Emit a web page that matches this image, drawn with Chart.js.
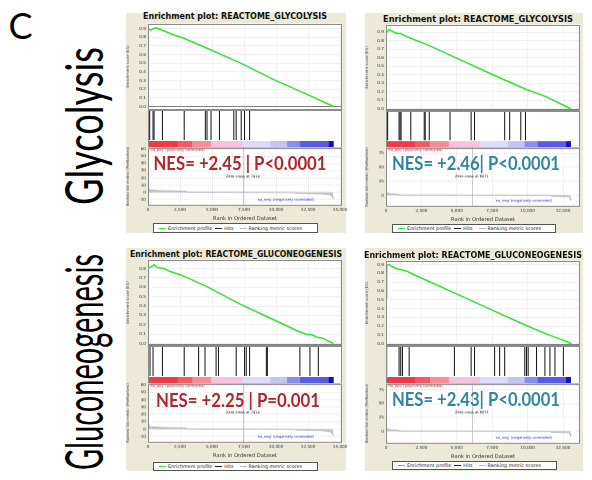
<!DOCTYPE html>
<html>
<head>
<meta charset="utf-8">
<title>GSEA enrichment plots</title>
<script src="https://cdn.jsdelivr.net/npm/chart.js@4.4.1/dist/chart.umd.min.js"></script>
<style>
  html, body { margin: 0; padding: 0; background: #fff; }
  #page { position: relative; width: 592px; height: 480px; overflow: hidden; }
  .panel { position: absolute; background: #ece9d8; }
  .abs { position: absolute; white-space: nowrap; }
  canvas { position: absolute; }
  .legend { position: absolute; box-sizing: border-box; background: #fff; border: 1px solid #555;
            display: flex; align-items: center; padding: 0 2px; font: 4.8px 'DejaVu Sans'; color: #222; white-space: nowrap; }
  .legend .sw { display: inline-block; width: 7px; border-top: 1.6px solid; margin: 0 2px 0 3px; }
</style>
</head>
<body>
<div id="page"></div>
<script>
// ---- data ----
const xTicksA = [0, 2500, 5000, 7500, 10000, 12500, 15000];
const xTicksB = [0, 2500, 5000, 7500, 10000, 12500];
const esTicks9 = [0, 0.1, 0.2, 0.3, 0.4, 0.5, 0.6, 0.7, 0.8, 0.9];
const esTicks8 = [0, 0.1, 0.2, 0.3, 0.4, 0.5, 0.6, 0.7, 0.8];
const metricTicksA = [-10, 0, 10, 20, 30, 40, 50, 60];
const metricTicksB = [0, 25, 50, 75];

// glycolysis, left dataset
const glyA_esRank = [0, 25, 210, 470, 600, 1130, 1910, 2700, 4530, 7150, 10030, 12390, 14480];
const glyA_esScore = [0, 0.897, 0.881, 0.904, 0.908, 0.88, 0.831, 0.793, 0.678, 0.506, 0.295, 0.142, 0];
const glyA_hits = [26, 131, 393, 471, 1126, 2828, 4478, 4609, 4923, 5577, 6703, 6886, 7279, 7541, 7934];

// glycolysis, right dataset
const glyB_esRank = [0, 20, 213, 450, 805, 1040, 1160, 1870, 2820, 5180, 7550, 9920, 11340, 13040];
const glyB_esScore = [0.364, 0.89, 0.93, 0.91, 0.884, 0.884, 0.872, 0.82, 0.76, 0.58, 0.40, 0.227, 0.14, 0];
const glyB_hits = [10, 20, 47, 118, 923, 994, 1065, 1752, 2699, 2770, 3054, 4522, 6013, 6250, 8381, 8736, 9517, 9849];

// gluconeogenesis, left dataset
const gngA_esRank = [0, 26, 210, 470, 600, 860, 1260, 1780, 2440, 2960, 4530, 7150, 9770, 11600, 12390, 12780, 13180, 13570, 14480];
const gngA_esScore = [0, 0.808, 0.815, 0.84, 0.82, 0.808, 0.80, 0.765, 0.737, 0.708, 0.612, 0.423, 0.256, 0.139, 0.096, 0.096, 0.068, 0.06, 0];
const gngA_hits = [26, 157, 393, 1126, 2828, 3953, 4452, 5316, 5499, 6886, 7541, 7672, 7934, 9243, 9321, 11861, 12647, 13301];

// gluconeogenesis, right dataset
const gngB_esRank = [0, 50, 240, 400, 760, 1110, 1470, 1940, 2890, 5250, 7620, 9990, 11400, 12350, 13100];
const gngB_esScore = [0.527, 0.89, 0.90, 0.878, 0.851, 0.84, 0.824, 0.786, 0.718, 0.546, 0.374, 0.202, 0.107, 0.05, 0];
const gngB_hits = [20, 47, 923, 1041, 1160, 1634, 4830, 6013, 6250, 7670, 8026, 8381, 9801, 9920, 10038, 10630, 11222, 11577, 11932, 12524];

// ranked list metric, one per ranked list
const metricA_rank = [0, 60, 300, 1000, 2000, 2900, 3100, 6000, 9000, 11300, 11700, 13500, 14200, 14400, 14480];
const metricA_value = [6, 4, 2.8, 2.2, 1.8, 1.5, 0.3, 0.1, 0, -0.2, -1.2, -1.8, -3, -6, -9];
const metricB_rank = [0, 40, 150, 400, 850, 900, 5000, 9000, 11600, 11700, 12900, 13000, 13040];
const metricB_value = [7, 4, 3, 2.2, 1.6, 0.3, 0.1, 0, -0.3, -1.8, -2.5, -5, -9];

// heat bar under the hits, as fractions of the ranked list
const colorbarStops = [0, 0.16, 0.24, 0.34, 0.51, 0.66, 0.75, 0.82, 0.975, 1];

const nesLabels = ['NES= +2.45 | P<0.0001', 'NES= +2.46| P<0.0001', 'NES= +2.25 | P=0.001', 'NES= +2.43| P<0.0001'];
const zeroCross = [7414, 6071, 7414, 6071];
const legendLabels = ['Enrichment profile', 'Hits', 'Ranking metric scores'];

// ---- look ----
const colorbarColors = ['#ef3a49', '#f35a68', '#f68c98', '#f8c2de', '#dcdcf8', '#c5c5f4', '#8c8cef', '#5a5ae6', '#1212bd'];
const legendColors = ['#33e633', '#222', '#bbb'];
const NES_RED = '#b0262d', NES_TEAL = '#31869c';

Chart.defaults.font.family = "'DejaVu Sans', sans-serif";
Chart.defaults.font.size = 4.2;
Chart.defaults.color = '#333';
Chart.defaults.animation = false;
Chart.defaults.events = [];
Chart.defaults.responsive = false;
Chart.defaults.maintainAspectRatio = false;
Chart.defaults.plugins.legend.display = false;
Chart.defaults.plugins.tooltip.enabled = false;

const page = document.getElementById('page');
const zip = (xs, ys) => xs.map((x, i) => ({ x, y: ys[i] }));
const fixedTicks = values => scale => { scale.ticks = values.map(v => ({ value: v })); };

function addText(text, cx, cy, o) {
  const el = document.createElement('div');
  el.className = 'abs';
  el.textContent = text;
  el.style.font = `${o.weight || 'normal'} ${o.size}px ${o.family}`;
  el.style.lineHeight = '1';
  el.style.color = o.color || '#000';
  page.appendChild(el);
  const sx = o.length ? o.length / el.getBoundingClientRect().width : 1;
  el.style.left = cx + 'px';
  el.style.top = cy + 'px';
  el.style.transform = `translate(-50%, -50%) rotate(${o.rotate || 0}deg) scaleX(${sx})`;
  return el;
}

// create a chart whose plot area lands on [l, t, r, b] of the page
function makeChart(area, margins, config) {
  const [l, t, r, b] = area;
  const [ml, mt, mr, mb] = margins;
  const w = r - l + ml + mr, h = b - t + mt + mb;
  const canvas = document.createElement('canvas');
  canvas.width = w; canvas.height = h;
  canvas.style.width = w + 'px'; canvas.style.height = h + 'px';
  canvas.style.left = (l - ml) + 'px'; canvas.style.top = (t - mt) + 'px';
  page.appendChild(canvas);
  const chart = new Chart(canvas, config);
  const a = chart.chartArea;
  const dx = a.left - ml, dy = a.top - mt;
  const dw = (a.right - a.left) - (r - l), dh = (a.bottom - a.top) - (b - t);
  if (dx || dy || dw || dh) {
    canvas.style.left = (l - ml - dx) + 'px';
    canvas.style.top = (t - mt - dy) + 'px';
    chart.resize(w - dw, h - dh);
  }
  return chart;
}

const plotFrame = {
  id: 'plotFrame',
  beforeDraw(chart) {
    const { ctx, chartArea: a } = chart;
    ctx.save();
    ctx.fillStyle = '#fff';
    ctx.fillRect(a.left, a.top, a.width, a.height);
    ctx.restore();
  },
  afterDraw(chart) {
    const { ctx, chartArea: a } = chart;
    ctx.save();
    ctx.strokeStyle = '#8c8c8c';
    ctx.lineWidth = 1;
    ctx.strokeRect(Math.round(a.left) + 0.5, Math.round(a.top) + 0.5, Math.round(a.width) - 1, Math.round(a.height) - 1);
    ctx.restore();
  }
};

const zeroLine = {
  id: 'zeroLine',
  beforeDatasetsDraw(chart) {
    const { ctx, chartArea: a, scales: { y } } = chart;
    const py = Math.round(y.getPixelForValue(0)) + 0.5;
    ctx.save();
    ctx.strokeStyle = '#808080';
    ctx.lineWidth = 1;
    ctx.beginPath(); ctx.moveTo(a.left, py); ctx.lineTo(a.right, py); ctx.stroke();
    ctx.restore();
  }
};

function colorbar(listSize) {
  return {
    id: 'colorbar',
    afterDatasetsDraw(chart) {
      const { ctx, chartArea: a, scales: { x, y } } = chart;
      const top = y.getPixelForValue(-0.03);
      for (let i = 0; i < colorbarColors.length; i++) {
        const x0 = x.getPixelForValue(colorbarStops[i] * listSize);
        const x1 = x.getPixelForValue(colorbarStops[i + 1] * listSize);
        ctx.fillStyle = colorbarColors[i];
        ctx.fillRect(x0, top, x1 - x0 + 0.3, a.bottom - top);
      }
    }
  };
}

function metricNotes(cross) {
  return {
    id: 'metricNotes',
    beforeDatasetsDraw(chart) {
      const { ctx, chartArea: a, scales: { x } } = chart;
      const px = Math.round(x.getPixelForValue(cross)) + 0.5;
      ctx.save();
      ctx.strokeStyle = '#9a9a9a';
      ctx.setLineDash([1, 1]);
      ctx.beginPath(); ctx.moveTo(px, a.top); ctx.lineTo(px, a.bottom); ctx.stroke();
      ctx.restore();
    },
    afterDatasetsDraw(chart) {
      const { ctx, chartArea: a, scales: { x } } = chart;
      ctx.save();
      ctx.font = "3.6px 'DejaVu Sans'";
      ctx.textBaseline = 'middle';
      ctx.fillStyle = '#e8323a';
      ctx.fillText("'na_pos' (positively correlated)", a.left + 1.5, a.top + 2.5);
      ctx.fillStyle = '#111';
      ctx.textAlign = 'center';
      ctx.fillText('Zero cross at ' + cross, x.getPixelForValue(cross), a.top + 29);
      ctx.fillStyle = '#2a2ae8';
      ctx.textAlign = 'right';
      ctx.fillText("'na_neg' (negatively correlated)", a.right - 28, a.bottom - 5);
      ctx.restore();
    }
  };
}

function addLegend(box) {
  const el = document.createElement('div');
  el.className = 'legend';
  Object.assign(el.style, { left: box[0] + 'px', top: box[1] + 'px', width: box[2] + 'px', height: box[3] + 'px' });
  legendLabels.forEach((label, i) => {
    const sw = document.createElement('span');
    sw.className = 'sw';
    sw.style.borderColor = legendColors[i];
    if (i === 2) sw.style.marginLeft = '6px';
    el.appendChild(sw);
    el.appendChild(document.createTextNode(label));
  });
  page.appendChild(el);
}

const gridX = { color: '#d6d6d6', lineWidth: 0.6, drawTicks: false };
const gridY = { color: '#d6d6d6', lineWidth: 0.6, drawTicks: false };
const dotted = { display: false, dash: [1, 1] };

function buildPanel(d, L) {
  const bg = document.createElement('div');
  bg.className = 'panel';
  Object.assign(bg.style, { left: L.bg[0] + 'px', top: L.bg[1] + 'px', width: L.bg[2] + 'px', height: L.bg[3] + 'px' });
  page.appendChild(bg);

  addText('Enrichment plot: ' + d.set, L.title[0], L.title[1],
    { size: 8, length: L.title[2], weight: 'bold', family: "'DejaVu Sans'", color: '#111' });

  const [xl, xr] = L.x;
  const xAxis = showTicks => ({
    type: 'linear', min: 0, max: L.xMax, offset: false,
    afterBuildTicks: fixedTicks(L.xTicks),
    ticks: { display: showTicks, padding: 2, maxRotation: 0, callback: v => v.toLocaleString('en-US') },
    grid: gridX, border: dotted,
    title: { display: showTicks, text: 'Rank in Ordered Dataset', font: { size: 5.2 }, color: '#333', padding: { top: 1, bottom: 0 } }
  });
  const fitWidth = s => { s.width = L.ml; };

  // running enrichment score
  makeChart([xl, L.es[0], xr, L.es[1]], [L.ml, 4, 8, 4], {
    type: 'line',
    data: { datasets: [{ data: zip(d.esRank, d.esScore), borderColor: '#2ee62e', borderWidth: 1.5, pointRadius: 0 }] },
    options: {
      layout: { padding: { top: 4, right: 8, bottom: 4 } },
      scales: {
        x: xAxis(false),
        y: {
          min: L.esMin, max: L.esMax, afterBuildTicks: fixedTicks(L.esTicks), afterFit: fitWidth,
          ticks: { padding: 2, callback: v => v.toFixed(1) },
          grid: gridY, border: dotted,
          title: { display: true, text: 'Enrichment score (ES)', font: { size: 3.8 }, color: '#555', padding: 0 }
        }
      }
    },
    plugins: [plotFrame, zeroLine]
  });

  // hits and heat bar
  makeChart([xl, L.hits[0], xr, L.hits[1]], [L.ml, 0, 8, 0], {
    type: 'bar',
    data: { datasets: [{ data: d.hits.map(r => ({ x: r, y: [0, 1] })), backgroundColor: '#111',
                         barThickness: 1, inflateAmount: 0, borderWidth: 0 }] },
    options: {
      layout: { padding: { left: L.ml, right: 8 } },
      scales: {
        x: { type: 'linear', min: 0, max: L.xMax, offset: false, display: false },
        y: { min: -0.27, max: 1.03, display: false }
      }
    },
    plugins: [plotFrame, colorbar(d.listSize)]
  });

  // ranked list metric
  makeChart([xl, L.rank[0], xr, L.rank[1]], [L.ml, 3, 8, 14], {
    type: 'line',
    data: { datasets: [{ data: zip(d.metricRank, d.metricValue), borderColor: '#a8a8a8', borderWidth: 0.8,
                         backgroundColor: '#c4c4c4', fill: 'origin', pointRadius: 0 }] },
    options: {
      layout: { padding: { top: 3, right: 8 } },
      scales: {
        x: xAxis(true),
        y: {
          min: L.metricMin, max: L.metricMax, afterBuildTicks: fixedTicks(L.metricTicks), afterFit: fitWidth,
          ticks: { padding: 2 },
          grid: gridY, border: dotted,
          title: { display: true, text: 'Ranked list metric (PreRanked)', font: { size: 3.8 }, color: '#555', padding: 0 }
        }
      }
    },
    plugins: [plotFrame, metricNotes(d.zeroCross)]
  });

  addLegend(L.legend);
  addText(d.nes, L.nes[0], L.nes[1],
    { size: 18, length: L.nes[2], weight: 'bold', family: 'Lato', color: d.nesColor });
}

const datasets = [
  { set: 'REACTOME_GLYCOLYSIS', esRank: glyA_esRank, esScore: glyA_esScore, hits: glyA_hits,
    metricRank: metricA_rank, metricValue: metricA_value, listSize: 14480, zeroCross: zeroCross[0], nes: nesLabels[0], nesColor: NES_RED },
  { set: 'REACTOME_GLYCOLYSIS', esRank: glyB_esRank, esScore: glyB_esScore, hits: glyB_hits,
    metricRank: metricB_rank, metricValue: metricB_value, listSize: 13040, zeroCross: zeroCross[1], nes: nesLabels[1], nesColor: NES_TEAL },
  { set: 'REACTOME_GLUCONEOGENESIS', esRank: gngA_esRank, esScore: gngA_esScore, hits: gngA_hits,
    metricRank: metricA_rank, metricValue: metricA_value, listSize: 14480, zeroCross: zeroCross[2], nes: nesLabels[2], nesColor: NES_RED },
  { set: 'REACTOME_GLUCONEOGENESIS', esRank: gngB_esRank, esScore: gngB_esScore, hits: gngB_hits,
    metricRank: metricB_rank, metricValue: metricB_value, listSize: 13040, zeroCross: zeroCross[3], nes: nesLabels[3], nesColor: NES_TEAL }
];

const layouts = [
  { bg: [126, 13, 220, 220], title: [235, 16.5, 184], x: [148, 342], es: [24, 110], hits: [110, 148], rank: [148, 205], ml: 22,
    xMax: 15150, xTicks: xTicksA, esMin: -0.035, esMax: 0.957, esTicks: esTicks9,
    metricMin: -18, metricMax: 62, metricTicks: metricTicksA, legend: [153, 223, 165, 10], nes: [239.5, 163, 173] },
  { bg: [365, 13, 218, 220], title: [478, 20, 190], x: [386, 580], es: [25, 111], hits: [111, 148], rank: [148, 206], ml: 21,
    xMax: 13700, xTicks: xTicksB, esMin: -0.02, esMax: 0.99, esTicks: esTicks9,
    metricMin: -20, metricMax: 85, metricTicks: metricTicksB, legend: [392, 224, 164, 9], nes: [476, 163, 168] },
  { bg: [126, 248, 220, 223], title: [235.5, 255, 212], x: [148, 342], es: [260, 346], hits: [346, 384], rank: [384, 442], ml: 22,
    xMax: 15150, xTicks: xTicksA, esMin: -0.021, esMax: 0.896, esTicks: esTicks8,
    metricMin: -18, metricMax: 62, metricTicks: metricTicksA, legend: [153, 462, 165, 9], nes: [238, 399.5, 164] },
  { bg: [365, 248, 218, 223], title: [473, 256, 218], x: [386, 580], es: [261, 346], hits: [346, 384], rank: [384, 443], ml: 21,
    xMax: 13700, xTicks: xTicksB, esMin: -0.019, esMax: 0.945, esTicks: esTicks9,
    metricMin: -22, metricMax: 86, metricTicks: metricTicksB, legend: [392, 461, 165, 9], nes: [476, 398.5, 168] }
];

datasets.forEach((d, i) => buildPanel(d, layouts[i]));

// figure letter and row labels
addText('C', 20.5, 24.5, { size: 36, family: 'Lato' });
addText('Glycolysis', 83, 126, { size: 52, length: 158, rotate: -90, family: 'Lato' });
addText('Gluconeogenesis', 83, 362, { size: 52, length: 216, rotate: -90, family: 'Lato' });
</script>
</body>
</html>
